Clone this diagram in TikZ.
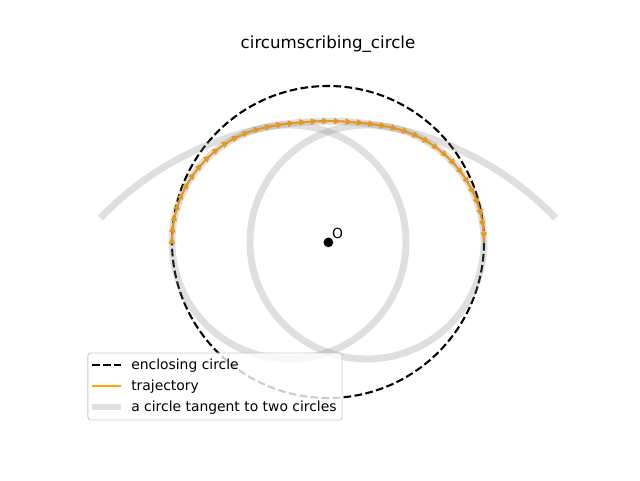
\documentclass[tikz,border=0pt]{standalone}
\usepackage{fontspec}
\setmainfont{DejaVu Sans}
\usetikzlibrary{arrows.meta,decorations.markings}
\definecolor{traj}{RGB}{228,152,32}
\definecolor{legorange}{RGB}{255,165,0}
\tikzset{
  enclosing/.style={black, line width=1.5pt, dash pattern=on 5.55pt off 2.4pt},
  tangentcircle/.style={gray, opacity=0.25, line width=5pt},
  trajline/.style={traj, line width=1.5pt,
    postaction={decorate, decoration={markings,
      mark=between positions 0.012 and 1 step 8.3pt with {\arrow[traj]{Triangle[length=5pt,width=4.4pt]}}}}},
  legbox/.style={draw={rgb,255:red,204;green,204;blue,204}, fill=white, fill opacity=0.8, rounded corners=2pt, line width=0.7pt},
  legtext/.style={anchor=west, font=\fontsize{10}{12}\selectfont, inner sep=0pt},
}
\begin{document}
\begin{tikzpicture}[x=28.08pt, y=28.08pt]
\useasboundingbox (-8.410,-6.103) rectangle (8.0,6.205);
% title
\node[font=\fontsize{12}{14}\selectfont] (title) at (0,5.077) {circumscribing\_circle};
% enclosing circle
\draw[enclosing] (0,0) circle (4);
% tangent circles
\draw[tangentcircle] (-1,0) circle (3);
\draw[tangentcircle] (1,0) circle (3);
\draw[tangentcircle] (0,-5) ++(136.1:8.099) arc[start angle=136.1, end angle=43.9, radius=8.099];
% trajectory
\draw[trajline] (-4,0) arc[start angle=180, end angle=101.31, radius=3]
  arc[start angle=101.31, end angle=78.69, radius=8.099]
  arc[start angle=78.69, end angle=0, radius=3];
% center
\fill (0.01,-0.01) circle (0.125);
\node[anchor=base west, inner sep=0pt, font=\fontsize{10}{12}\selectfont] (olabel) at (0.1,0.1) {O};
% legend
\draw[legbox] (-6.154,-2.846) rectangle (0.359,-4.564);
\coordinate (l1a) at (-6.051,-3.154); \coordinate (l1b) at (-5.308,-3.154);
\coordinate (l2a) at (-6.051,-3.692); \coordinate (l2b) at (-5.308,-3.692);
\coordinate (l3a) at (-6.051,-4.231); \coordinate (l3b) at (-5.308,-4.231);
\draw[enclosing] (l1a) -- (l1b);
\draw[legorange, line width=1.5pt] (l2a) -- (l2b);
\draw[tangentcircle] (l3a) -- (l3b);
\node[legtext] (t1) at (-5.051,-3.18) {enclosing circle};
\node[legtext] (t2) at (-5.051,-3.718) {trajectory};
\node[legtext] (t3) at (-5.051,-4.257) {a circle tangent to two circles};
\end{tikzpicture}
\end{document}
